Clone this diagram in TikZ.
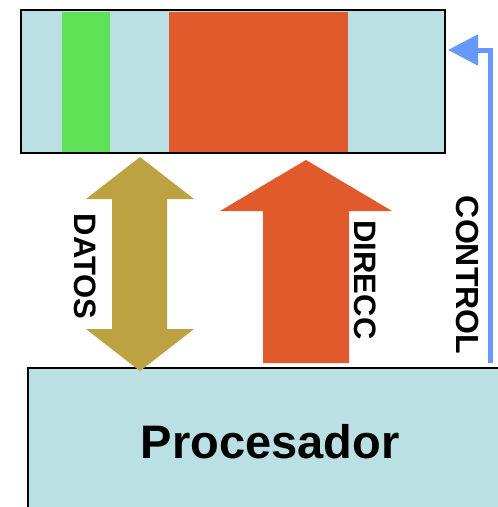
\documentclass[tikz,border=0pt]{standalone}
\usepackage{fontspec}
\setmainfont{Liberation Sans}
\usetikzlibrary{arrows.meta}
\definecolor{panel}{HTML}{BBE0E3}
\definecolor{datagreen}{HTML}{5EE256}
\definecolor{addrred}{HTML}{E05A2C}
\definecolor{busgold}{HTML}{BDA241}
\definecolor{ctrlblue}{HTML}{6699FF}
\tikzset{
  unit/.style={draw=black, fill=panel, inner sep=0pt, outer sep=0pt},
  field/.style={inner sep=0pt, outer sep=0pt},
  buslabel/.style={font=\bfseries\fontsize{31}{31}\selectfont, rotate=-90, inner sep=0pt},
}
\begin{document}
\begin{tikzpicture}[x=1pt, y=-1pt]
\useasboundingbox (0,0) rectangle (498,507);
\clip (0,0) rectangle (498,507);

% memory block with its two fields
\node[unit, line width=2.5pt, minimum width=424pt, minimum height=143pt, anchor=north west] (mem) at (21,10) {};
\node[field, fill=datagreen, minimum width=48pt, minimum height=140pt, anchor=north west] (datafield) at (62,11.5) {};
\node[field, fill=addrred, minimum width=179pt, minimum height=140pt, anchor=north west] (addrfield) at (169,11.5) {};
\draw[line width=2.5pt] (mem.north west) rectangle (mem.south east);

% processor block
\node[unit, line width=2pt, minimum width=490pt, minimum height=160pt, anchor=north west] (cpu) at (28,368) {};
\node[font=\bfseries\fontsize{47}{47}\selectfont, anchor=base, inner sep=0pt] (cpulabel) at (270,458) {Procesador};

% data bus (bidirectional)
\fill[busgold] (140,157) -- (194,199) -- (167,199) -- (167,329) -- (194,329) -- (140,371)
  -- (86,329) -- (112,329) -- (112,199) -- (86,199) -- cycle;
\node[buslabel] (datos) at (85.5,266.5) {DATOS};

% address bus
\fill[addrred] (306,160) -- (392,211) -- (349,211) -- (349,363) -- (263,363) -- (263,211) -- (220,211) -- cycle;
\node[buslabel] (direcc) at (365.5,280) {DIRECC};

% control line
\coordinate (ctrlstart) at (490,363);
\coordinate (ctrlend) at (448,50);
\draw[ctrlblue, line width=5pt, -{Triangle[length=30pt, width=30pt]}] (ctrlstart) |- (ctrlend);
\node[buslabel, font=\bfseries\fontsize{32}{32}\selectfont] (control) at (467.5,275) {CONTROL};
\end{tikzpicture}
\end{document}
